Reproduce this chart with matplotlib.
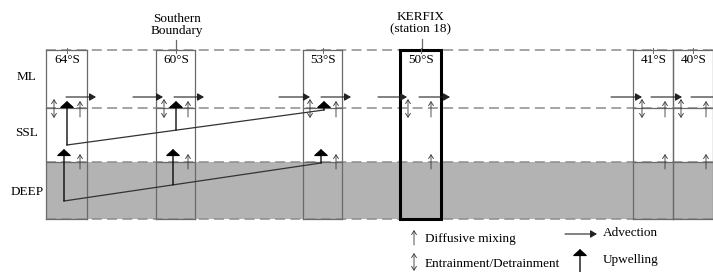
import matplotlib
matplotlib.use("Agg")
import matplotlib.pyplot as plt
from matplotlib.patches import Rectangle

# ---- data (schematic layout, pixel coordinates) ----
stations = ["64°S", "60°S", "53°S", "50°S", "41°S", "40°S"]
box_left = [46, 156, 303, 400, 633, 673]
box_right = [87, 195, 342, 441, 673, 713]
layer_names = ["ML", "SSL", "DEEP"]
layer_label_y = [77, 133, 192]
layer_bounds = [50, 108, 162, 219]

adv_start = [66, 133, 174, 279, 321, 378, 419, 611, 651]
adv_end = [96, 163, 204, 310, 351, 407, 450, 642, 682]
entrain_x = [54, 164, 310, 408, 642, 681]
diff_x = [80, 188, 336, 431, 665, 706]

# upwelling paths (SSL -> ML), (DEEP -> SSL)
up_ml_line = [(67, 145), (324, 110)]
up_ml_x = [67, 176, 324]
up_deep_line = [(64, 201), (321, 163)]
up_deep_x = [64, 173, 321]

fig = plt.figure(figsize=(7.13, 2.72), dpi=100)
ax = fig.add_axes([0, 0, 1, 1])
ax.set_xlim(0, 713)
ax.set_ylim(272, 0)
ax.axis("off")

FONT = "Liberation Serif"
gray_line = "#6a6a6a"
dash_col = "#8c8c8c"

# deep layer fill
ax.add_patch(Rectangle((46, layer_bounds[2]), 713 - 46, layer_bounds[3] - layer_bounds[2],
                       facecolor="#b3b3b3", edgecolor="none", zorder=0))

# horizontal dashed lines
for y in layer_bounds:
    ax.plot([46, 713], [y, y], color=dash_col, lw=1.1, ls=(0, (6.5, 3.5)), zorder=1)
    for l, r in zip(box_left, box_right):
        if l == 400:
            continue
        ax.plot([l, r], [y, y], color=gray_line, lw=0.9, zorder=2)

# vertical box lines
for l, r in zip(box_left, box_right):
    if l == 400:
        continue
    ax.plot([l, l], [50, 219], color=gray_line, lw=0.9, zorder=2)
    ax.plot([r, r], [50, 219], color=gray_line, lw=0.9, zorder=2)

# KERFIX thick box
ax.add_patch(Rectangle((400, 50), 41, 169, facecolor="none", edgecolor="black", lw=2.2, zorder=3))

# station labels
for name, l, r in zip(stations, box_left, box_right):
    cx = (l + r) / 2
    ax.text(cx + 1, 60, name, ha="center", va="center", fontsize=9.5, family=FONT, zorder=4)
    ax.plot([cx, cx], [48, 53], color=gray_line, lw=0.7, zorder=4)

# top annotations
ax.text(177, 25, "Southern\nBoundary", ha="center", va="center", fontsize=9.5,
        family=FONT, linespacing=1.0)
ax.plot([176, 176], [40, 50], color=gray_line, lw=0.9)
ax.text(421, 23, "KERFIX\n(station 18)", ha="center", va="center", fontsize=9.5,
        family=FONT, linespacing=1.05)
ax.plot([421.5, 421.5], [39, 50], color=gray_line, lw=0.9)

# layer labels
for name, y in zip(layer_names, layer_label_y):
    ax.text(27, y, name, ha="center", va="center", fontsize=9.5, family=FONT)


def arrow(x0, y0, x1, y1, style, lw, color="black", ms=7):
    ax.annotate("", xy=(x1, y1), xytext=(x0, y0),
                arrowprops=dict(arrowstyle=style, lw=lw, color=color,
                                shrinkA=0, shrinkB=0, mutation_scale=ms),
                zorder=5)

ADV = "-|>,head_length=0.55,head_width=0.32"
UPW = "-|>,head_length=0.5,head_width=0.55"
DIF = "->,head_length=0.35,head_width=0.22"
ENT = "<->,head_length=0.35,head_width=0.22"

# advection
for s, e in zip(adv_start, adv_end):
    arrow(s, 97, e, 97, ADV, 0.8, color="#222222")
arrow(691, 97, 713, 97, "-", 0.8, color="#222222")

# entrainment
for x in entrain_x:
    arrow(x, 118, x, 99, ENT, 0.6, color="#333333", ms=8)

# diffusive mixing
for x in diff_x:
    arrow(x, 117, x, 101, DIF, 0.6, color="#333333", ms=8)
    arrow(x, 169, x, 154, DIF, 0.6, color="#333333", ms=8)

# upwelling
(ax0, ay0), (ax1, ay1) = up_ml_line
ax.plot([ax0, ax1], [ay0, ay1], color="#333333", lw=0.9, zorder=5)
for x in up_ml_x:
    yb = ay0 + (ay1 - ay0) * (x - ax0) / (ax1 - ax0)
    arrow(x, yb, x, 101, UPW, 0.95, ms=8)
(bx0, by0), (bx1, by1) = up_deep_line
ax.plot([bx0, bx1], [by0, by1], color="#333333", lw=0.9, zorder=5)
for x in up_deep_x:
    yb = by0 + (by1 - by0) * (x - bx0) / (bx1 - bx0)
    arrow(x, yb, x, 149, UPW, 0.95, ms=8)

# legend
arrow(414, 245, 414, 230, DIF, 0.6, color="#333333", ms=8)
ax.text(425, 239, "Diffusive mixing", ha="left", va="center", fontsize=9.5, family=FONT)
arrow(414, 271, 414, 253, ENT, 0.6, color="#333333", ms=8)
ax.text(425, 264, "Entrainment/Detrainment", ha="left", va="center", fontsize=9.5, family=FONT)
arrow(565, 234, 597, 234, ADV, 0.8, color="#222222")
ax.text(603, 233, "Advection", ha="left", va="center", fontsize=9.5, family=FONT)
arrow(580, 273, 580, 249, UPW, 0.95, ms=8)
ax.text(603, 260, "Upwelling", ha="left", va="center", fontsize=9.5, family=FONT)

fig.savefig("out.png", dpi=100)
